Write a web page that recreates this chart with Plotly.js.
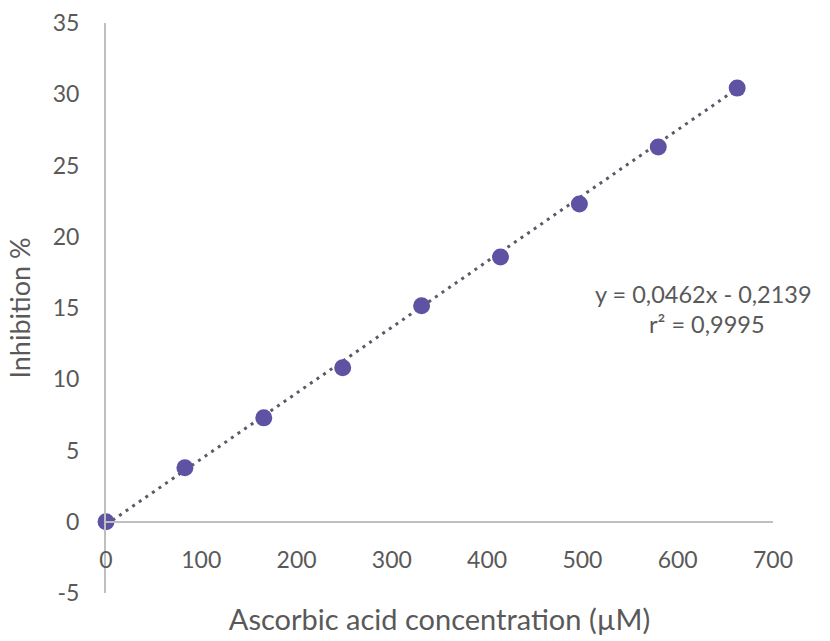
<!DOCTYPE html>
<html>
<head>
<meta charset="utf-8">
<script src="https://cdn.plot.ly/plotly-3.0.1.min.js"></script>
<style>html,body{margin:0;padding:0;background:#fff;}#chart{width:830px;height:641px;}</style>
</head>
<body>
<div id="chart"></div>
<script>
// Data
var concentration = [0, 82.8, 165.6, 248.4, 331.2, 414, 496.8, 579.6, 662.4];
var inhibition = [0, 3.79, 7.29, 10.80, 15.15, 18.58, 22.30, 26.30, 30.43];
var trendX = [0, 662.4];
var trendY = [-0.21, 30.39];
var xTickVals = [0, 100, 200, 300, 400, 500, 600, 700];
var xTickText = ["0", "100", "200", "300", "400", "500", "600", "700"];
var yTickVals = [-5, 0, 5, 10, 15, 20, 25, 30, 35];
var yTickText = ["-5", "0", "5", "10", "15", "20", "25", "30", "35"];
var equationLine1 = "y = 0,0462x - 0,2139";
var equationLine2 = "r² = 0,9995";
var xTitle = "Ascorbic acid concentration (µM)";
var yTitle = "Inhibition %";

var fontFam = "Lato, 'Open Sans', sans-serif";
var textColor = "#595959";

var traces = [
  {
    x: trendX, y: trendY, type: "scatter", mode: "lines",
    line: {color: "#5c5a68", width: 3, dash: "3px,5px"},
    hoverinfo: "skip", cliponaxis: false, showlegend: false
  },
  {
    x: concentration, y: inhibition, type: "scatter", mode: "markers",
    marker: {color: "rgb(94,82,163)", size: 17},
    cliponaxis: false, showlegend: false
  }
];

var layout = {
  width: 830, height: 641,
  margin: {l: 106, r: 57, t: 23, b: 48},
  paper_bgcolor: "#fff", plot_bgcolor: "#fff",
  font: {family: fontFam, color: textColor, size: 23},
  showlegend: false,
  xaxis: {
    range: [0, 700], tickmode: "array", tickvals: xTickVals, ticktext: xTickText,
    anchor: "free", position: 0.125,
    showgrid: false, zeroline: false,
    showline: true, linecolor: "#bfbfbf", linewidth: 2,
    ticks: "", ticklabelstandoff: 18,
    tickfont: {size: 23, color: textColor},
    title: {text: xTitle, font: {size: 29, color: textColor}, standoff: 36},
    automargin: false
  },
  yaxis: {
    range: [-5, 35], tickmode: "array", tickvals: yTickVals, ticktext: yTickText,
    showgrid: false, zeroline: false,
    showline: true, linecolor: "#bfbfbf", linewidth: 2,
    ticks: "", ticklabelstandoff: 20,
    tickfont: {size: 23, color: textColor},
    title: {text: yTitle, font: {size: 27, color: textColor}, standoff: 14},
    automargin: false
  },
  annotations: [
    {
      x: 627.5, y: 15.99, xref: "x", yref: "y",
      text: equationLine1, showarrow: false,
      xanchor: "center", yanchor: "middle", align: "center",
      font: {size: 23.5, color: textColor}
    },
    {
      x: 631, y: 13.89, xref: "x", yref: "y",
      text: equationLine2, showarrow: false,
      xanchor: "center", yanchor: "middle", align: "center",
      font: {size: 23.5, color: textColor}
    }
  ]
};

Plotly.newPlot("chart", traces, layout, {displayModeBar: false, staticPlot: true});
</script>
</body>
</html>
